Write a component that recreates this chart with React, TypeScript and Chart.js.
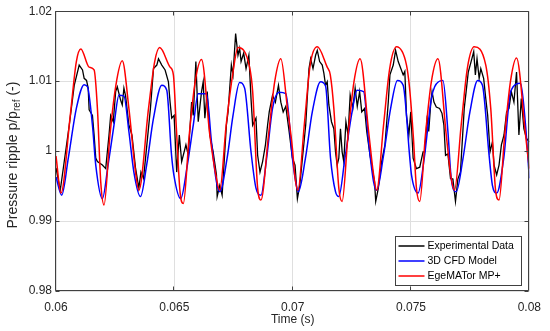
import React, { useEffect, useRef } from "react";
import { Chart, registerables } from "chart.js";
Chart.register(...registerables);

const xTickValues = [0.06, 0.065, 0.07, 0.075, 0.08];
const xTickLabels = ["0.06", "0.065", "0.07", "0.075", "0.08"];
const yTickValues = [0.98, 0.99, 1, 1.01, 1.02];
const yTickLabels = ["0.98", "0.99", "1", "1.01", "1.02"];

const seriesNames = ["Experimental Data", "3D CFD Model", "EgeMATor MP+"];
const seriesColors = ["#000000", "#0000ff", "#ff0000"];

const expTime = [
  0.06000, 0.06018, 0.06056, 0.06077, 0.06098, 0.06112, 0.06119, 0.06129, 0.06136, 0.06140,
  0.06154, 0.06161, 0.06168, 0.06175, 0.06196, 0.06210, 0.06224, 0.06231, 0.06242, 0.06252,
  0.06259, 0.06273, 0.06280, 0.06287, 0.06294, 0.06308, 0.06321, 0.06336, 0.06350, 0.06359,
  0.06370, 0.06399, 0.06412, 0.06426, 0.06433, 0.06447, 0.06461, 0.06475, 0.06482, 0.06489,
  0.06499, 0.06510, 0.06521, 0.06531, 0.06549, 0.06559, 0.06573, 0.06580, 0.06591, 0.06601,
  0.06615, 0.06622, 0.06629, 0.06639, 0.06650, 0.06664, 0.06678, 0.06681, 0.06692, 0.06702,
  0.06720, 0.06727, 0.06741, 0.06748, 0.06759, 0.06769, 0.06776, 0.06782, 0.06793, 0.06803,
  0.06815, 0.06824, 0.06831, 0.06845, 0.06852, 0.06862, 0.06873, 0.06885, 0.06894, 0.06901,
  0.06915, 0.06927, 0.06940, 0.06950, 0.06960, 0.06971, 0.06985, 0.06999, 0.07010, 0.07020,
  0.07030, 0.07055, 0.07069, 0.07076, 0.07086, 0.07097, 0.07104, 0.07114, 0.07125, 0.07132,
  0.07139, 0.07146, 0.07153, 0.07164, 0.07174, 0.07181, 0.07188, 0.07195, 0.07202, 0.07209,
  0.07216, 0.07225, 0.07234, 0.07243, 0.07254, 0.07264, 0.07273, 0.07283, 0.07292, 0.07304,
  0.07313, 0.07327, 0.07334, 0.07346, 0.07351, 0.07362, 0.07376, 0.07390, 0.07404, 0.07411,
  0.07425, 0.07435, 0.07446, 0.07457, 0.07467, 0.07474, 0.07481, 0.07491, 0.07499, 0.07509,
  0.07523, 0.07537, 0.07551, 0.07558, 0.07569, 0.07575, 0.07583, 0.07589, 0.07597, 0.07607,
  0.07621, 0.07631, 0.07639, 0.07646, 0.07656, 0.07667, 0.07677, 0.07688, 0.07698, 0.07709,
  0.07725, 0.07733, 0.07742, 0.07754, 0.07765, 0.07772, 0.07779, 0.07788, 0.07795, 0.07807,
  0.07816, 0.07824, 0.07834, 0.07844, 0.07851, 0.07862, 0.07872, 0.07882, 0.07893, 0.07904,
  0.07914, 0.07924, 0.07935, 0.07946, 0.07956, 0.07966, 0.07977, 0.07988, 0.08000,
];
const expValue = [
  0.9976, 0.9944, 1.0037, 1.0094, 1.0123, 1.0116, 1.0104, 1.0101, 1.0090, 1.0059,
  1.0051, 1.0023, 0.9990, 0.9985, 0.9980, 0.9975, 1.0023, 1.0051, 1.0042, 1.0085,
  1.0092, 1.0073, 1.0066, 1.0090, 1.0079, 1.0037, 1.0023, 0.9976, 0.9947, 0.9970,
  0.9961, 1.0061, 1.0118, 1.0123, 1.0132, 1.0123, 1.0116, 1.0099, 1.0070, 1.0047,
  1.0051, 0.9970, 1.0023, 0.9985, 1.0009, 0.9994, 1.0070, 1.0051, 1.0128, 1.0042,
  1.0085, 1.0099, 1.0047, 1.0085, 1.0023, 0.9999, 0.9966, 0.9935, 0.9951, 0.9937,
  1.0037, 1.0056, 1.0123, 1.0109, 1.0168, 1.0137, 1.0147, 1.0128, 1.0140, 1.0118,
  1.0137, 1.0075, 1.0037, 1.0047, 0.9994, 0.9970, 0.9985, 1.0009, 1.0037, 1.0056,
  1.0080, 1.0070, 1.0094, 1.0070, 1.0056, 1.0064, 1.0028, 0.9990, 0.9980, 0.9932,
  0.9951, 1.0037, 1.0118, 1.0132, 1.0118, 1.0137, 1.0144, 1.0128, 1.0123, 1.0111,
  1.0094, 1.0099, 1.0066, 1.0042, 1.0032, 0.9999, 0.9980, 0.9990, 1.0032, 0.9999,
  0.9985, 1.0042, 1.0023, 1.0080, 1.0061, 1.0090, 1.0064, 1.0085, 1.0056, 1.0061,
  1.0028, 0.9994, 0.9980, 0.9956, 0.9928, 0.9947, 0.9985, 1.0009, 1.0070, 1.0109,
  1.0123, 1.0144, 1.0128, 1.0118, 1.0109, 1.0114, 1.0051, 1.0023, 1.0056, 0.9990,
  0.9975, 0.9977, 0.9999, 0.9999, 1.0051, 1.0028, 1.0066, 1.0085, 1.0070, 1.0063,
  1.0061, 1.0054, 1.0037, 0.9994, 0.9996, 0.9961, 0.9960, 0.9928, 0.9960, 0.9970,
  1.0061, 1.0085, 1.0113, 1.0128, 1.0142, 1.0109, 1.0132, 1.0104, 1.0118, 1.0104,
  1.0075, 1.0051, 0.9999, 1.0013, 0.9980, 0.9966, 0.9980, 1.0009, 1.0023, 1.0056,
  1.0061, 1.0085, 1.0070, 1.0113, 1.0023, 1.0075, 1.0032, 1.0018, 1.0013,
];

const cfdTime = [
  0.06000, 0.06024, 0.06052, 0.06086, 0.06119, 0.06133, 0.06154, 0.06168, 0.06196, 0.06220,
  0.06245, 0.06266, 0.06287, 0.06308, 0.06329, 0.06357, 0.06383, 0.06412, 0.06447, 0.06468,
  0.06488, 0.06498, 0.06527, 0.06555, 0.06580, 0.06601, 0.06636, 0.06657, 0.06678, 0.06692,
  0.06723, 0.06748, 0.06776, 0.06797, 0.06824, 0.06845, 0.06866, 0.06890, 0.06915, 0.06943,
  0.06971, 0.06999, 0.07011, 0.07024, 0.07054, 0.07083, 0.07118, 0.07139, 0.07160, 0.07181,
  0.07195, 0.07221, 0.07251, 0.07272, 0.07300, 0.07321, 0.07342, 0.07355, 0.07384, 0.07414,
  0.07443, 0.07467, 0.07495, 0.07502, 0.07530, 0.07556, 0.07586, 0.07600, 0.07635, 0.07656,
  0.07670, 0.07691, 0.07720, 0.07749, 0.07782, 0.07802, 0.07830, 0.07844, 0.07862, 0.07892,
  0.07921, 0.07963, 0.07984, 0.08000,
];
const cfdValue = [
  0.9963, 0.9937, 0.9990, 1.0061, 1.0095, 1.0092, 1.0037, 0.9980, 0.9932, 0.9980,
  1.0037, 1.0080, 1.0079, 1.0028, 0.9970, 0.9935, 0.9980, 1.0047, 1.0094, 1.0087,
  0.9995, 0.9966, 0.9932, 0.9980, 1.0037, 1.0082, 1.0082, 1.0013, 0.9956, 0.9942,
  0.9990, 1.0051, 1.0098, 1.0090, 0.9999, 0.9947, 0.9937, 0.9990, 1.0061, 1.0084,
  1.0082, 0.9990, 0.9960, 0.9942, 0.9990, 1.0056, 1.0099, 1.0093, 0.9990, 0.9942,
  0.9935, 0.9990, 1.0056, 1.0087, 1.0085, 1.0013, 0.9956, 0.9944, 0.9994, 1.0061,
  1.0101, 1.0094, 0.9990, 0.9966, 0.9940, 0.9990, 1.0075, 1.0092, 1.0101, 1.0028,
  0.9961, 0.9942, 0.9990, 1.0056, 1.0101, 1.0094, 0.9994, 0.9951, 0.9940, 0.9990,
  1.0085, 1.0097, 1.0037, 0.9961,
];

const egeTime = [
  0.06000, 0.06021, 0.06060, 0.06086, 0.06105, 0.06140, 0.06161, 0.06175, 0.06189, 0.06203,
  0.06228, 0.06253, 0.06280, 0.06308, 0.06336, 0.06350, 0.06391, 0.06417, 0.06438, 0.06482,
  0.06496, 0.06509, 0.06524, 0.06538, 0.06563, 0.06588, 0.06615, 0.06650, 0.06678, 0.06692,
  0.06719, 0.06748, 0.06769, 0.06818, 0.06831, 0.06852, 0.06866, 0.06898, 0.06924, 0.06950,
  0.06978, 0.06999, 0.07009, 0.07022, 0.07049, 0.07074, 0.07104, 0.07146, 0.07159, 0.07174,
  0.07195, 0.07209, 0.07234, 0.07259, 0.07285, 0.07321, 0.07342, 0.07355, 0.07384, 0.07410,
  0.07439, 0.07481, 0.07494, 0.07510, 0.07523, 0.07537, 0.07561, 0.07586, 0.07614, 0.07649,
  0.07670, 0.07684, 0.07712, 0.07738, 0.07767, 0.07816, 0.07837, 0.07858, 0.07872, 0.07896,
  0.07921, 0.07946, 0.07984, 0.08000,
];
const egeValue = [
  0.9993, 0.9940, 1.0050, 1.0128, 1.0146, 1.0120, 1.0116, 1.0061, 0.9956, 0.9923,
  1.0023, 1.0094, 1.0129, 1.0061, 0.9970, 0.9944, 1.0061, 1.0128, 1.0148, 1.0120,
  1.0109, 1.0030, 0.9942, 0.9925, 1.0023, 1.0099, 1.0131, 1.0023, 0.9961, 0.9944,
  1.0037, 1.0113, 1.0148, 1.0120, 1.0085, 0.9947, 0.9930, 1.0023, 1.0099, 1.0132,
  1.0061, 1.0004, 0.9965, 0.9944, 1.0037, 1.0123, 1.0149, 1.0120, 1.0109, 1.0061,
  0.9947, 0.9928, 1.0023, 1.0099, 1.0132, 1.0028, 0.9966, 0.9944, 1.0037, 1.0118,
  1.0149, 1.0123, 1.0090, 1.0020, 0.9947, 0.9928, 1.0023, 1.0099, 1.0132, 1.0023,
  0.9961, 0.9944, 1.0037, 1.0118, 1.0149, 1.0123, 1.0061, 0.9942, 0.9930, 1.0023,
  1.0101, 1.0133, 1.0023, 0.9975,
];

const FONT = '"Liberation Sans", Arial, Helvetica, sans-serif';
const AXIS_COLOR = "#404040";
const TEXT_COLOR = "#262626";

const toPoints = (xs: number[], ys: number[]) => xs.map((x, i) => ({ x, y: ys[i] }));

const framePlugin = {
  id: "matlabFrame",
  afterDatasetsDraw(chart: any) {
    const { ctx, chartArea: a, scales } = chart;
    const L = Math.round(a.left) - 0.5;
    const R = Math.round(a.right) - 0.5;
    const T = Math.round(a.top) + 0.5;
    const B = Math.round(a.bottom) - 0.5;
    ctx.save();
    ctx.strokeStyle = AXIS_COLOR;
    ctx.lineWidth = 1;
    ctx.beginPath();
    const tl = 4;
    for (const v of xTickValues) {
      const x = Math.round(scales.x.getPixelForValue(v)) - 0.5;
      ctx.moveTo(x, B); ctx.lineTo(x, B - tl);
      ctx.moveTo(x, T); ctx.lineTo(x, T + tl);
    }
    for (const v of yTickValues) {
      const y = Math.round(scales.y.getPixelForValue(v)) + 0.5;
      ctx.moveTo(L, y); ctx.lineTo(L + tl, y);
      ctx.moveTo(R, y); ctx.lineTo(R - tl, y);
    }
    ctx.rect(L, T, R - L, B - T);
    ctx.stroke();

    // x title
    ctx.fillStyle = TEXT_COLOR;
    ctx.font = `12px ${FONT}`;
    ctx.textAlign = "center";
    ctx.textBaseline = "middle";
    ctx.fillText("Time (s)", (a.left + a.right) / 2, 320);

    // y title with subscript
    const mainFont = `14px ${FONT}`;
    const subFont = `10px ${FONT}`;
    const p1 = "Pressure ripple p/p";
    const p2 = "ref";
    const p3 = " (-)";
    ctx.font = mainFont;
    const w1 = ctx.measureText(p1).width;
    const w3 = ctx.measureText(p3).width;
    ctx.font = subFont;
    const w2 = ctx.measureText(p2).width;
    const total = w1 + w2 + w3;
    ctx.translate(17, (a.top + a.bottom) / 2 + 4);
    ctx.rotate(-Math.PI / 2);
    ctx.textAlign = "left";
    ctx.textBaseline = "alphabetic";
    let x0 = -total / 2;
    ctx.font = mainFont;
    ctx.fillText(p1, x0, 0);
    x0 += w1;
    ctx.font = subFont;
    ctx.fillText(p2, x0, 3);
    x0 += w2;
    ctx.font = mainFont;
    ctx.fillText(p3, x0, 0);
    ctx.restore();
  },
  afterDraw(chart: any) {
    const { ctx, chartArea: a } = chart;
    const ds = chart.data.datasets;
    ctx.save();
    ctx.font = `10.5px ${FONT}`;
    let maxW = 0;
    for (const d of ds) maxW = Math.max(maxW, ctx.measureText(d.label).width);
    const lineLen = 26;
    const rowH = 15;
    const boxW = 3 + lineLen + 3 + maxW + 8;
    const boxH = 49;
    const right = Math.round(a.right) - 7.5;
    const bottom = Math.round(a.bottom) - 5.5;
    const left = right - Math.round(boxW);
    const top = bottom - boxH;
    ctx.fillStyle = "#ffffff";
    ctx.fillRect(left, top, right - left, bottom - top);
    ctx.strokeStyle = AXIS_COLOR;
    ctx.lineWidth = 1;
    ctx.strokeRect(left, top, right - left, bottom - top);
    ds.forEach((d: any, i: number) => {
      const cy = top + 9.5 + i * rowH;
      ctx.strokeStyle = d.borderColor;
      ctx.lineWidth = 1.5;
      ctx.beginPath();
      ctx.moveTo(left + 3, cy);
      ctx.lineTo(left + 3 + lineLen, cy);
      ctx.stroke();
      ctx.fillStyle = "#000000";
      ctx.textAlign = "left";
      ctx.textBaseline = "middle";
      ctx.fillText(d.label, left + 3 + lineLen + 3, cy);
    });
    ctx.restore();
  },
};

export default function App() {
  const ref = useRef<HTMLCanvasElement | null>(null);
  useEffect(() => {
    const canvas = ref.current;
    if (!canvas) return;
    const chart = new Chart(canvas, {
      type: "line",
      data: {
        datasets: [
          {
            label: seriesNames[0],
            data: toPoints(expTime, expValue),
            borderColor: seriesColors[0],
            borderWidth: 1.3,
            pointRadius: 0,
            tension: 0,
            order: 2,
          },
          {
            label: seriesNames[1],
            data: toPoints(cfdTime, cfdValue),
            borderColor: seriesColors[1],
            borderWidth: 1.5,
            pointRadius: 0,
            cubicInterpolationMode: "monotone",
            order: 1,
          },
          {
            label: seriesNames[2],
            data: toPoints(egeTime, egeValue),
            borderColor: seriesColors[2],
            borderWidth: 1.5,
            pointRadius: 0,
            cubicInterpolationMode: "monotone",
            order: 0,
          },
        ],
      } as any,
      options: {
        animation: false,
        responsive: false,
        devicePixelRatio: 1,
        layout: { padding: { top: 11, right: 17, left: 0, bottom: 0 } },
        plugins: { legend: { display: false }, tooltip: { enabled: false } },
        scales: {
          x: {
            type: "linear",
            min: 0.06,
            max: 0.08,
            afterBuildTicks: (s: any) => { s.ticks = xTickValues.map((v) => ({ value: v })); },
            afterFit: (s: any) => { s.height = 40; },
            ticks: {
              callback: (_v: any, i: number) => xTickLabels[i],
              color: TEXT_COLOR,
              font: { family: FONT, size: 12 },
              padding: 9,
              maxRotation: 0,
              autoSkip: false,
            },
            grid: { color: "#dfdfdf", lineWidth: 1, drawTicks: false },
            border: { display: false },
          },
          y: {
            type: "linear",
            min: 0.98,
            max: 1.02,
            afterBuildTicks: (s: any) => { s.ticks = yTickValues.map((v) => ({ value: v })); },
            afterFit: (s: any) => { s.width = 56; },
            ticks: {
              callback: (_v: any, i: number) => yTickLabels[i],
              color: TEXT_COLOR,
              font: { family: FONT, size: 12 },
              padding: 4,
              autoSkip: false,
            },
            grid: { color: "#dfdfdf", lineWidth: 1, drawTicks: false },
            border: { display: false },
          },
        },
      } as any,
      plugins: [framePlugin],
    });
    return () => chart.destroy();
  }, []);
  return (
    <div style={{ position: "fixed", left: 0, top: 0, width: 550, height: 331, background: "#ffffff" }}>
      <canvas ref={ref} width={550} height={331} style={{ width: 550, height: 331, display: "block" }} />
    </div>
  );
}
